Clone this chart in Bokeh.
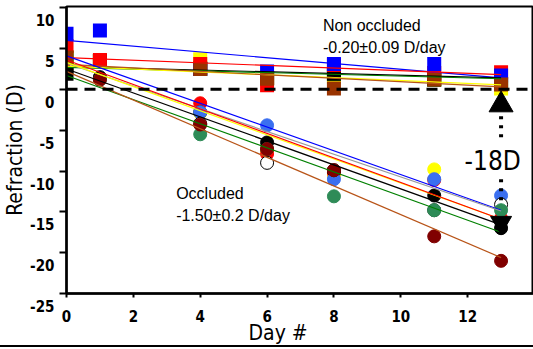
from bokeh.plotting import figure
from bokeh.models import FixedTicker, Span, Label, Range1d, Title
from bokeh.embed import file_html
from bokeh.resources import INLINE

nan = float("nan")

# ---------------- data ----------------
days = [0, 1, 4, 6, 8, 11, 13]
fit_days = [0, 13]

# Non-occluded eyes (squares), drawn in this order
sq_yellow = [3.9, 3.5, 3.7, 1.4, 1.5, 1.2, 0.1]
sq_green = [3.9, 3.5, 2.6, 1.4, 1.9, 1.2, 0.7]
sq_black = [1.9, 3.5, 2.5, 1.4, 1.9, 1.2, 0.7]
sq_red = [5.3, 3.6, 3.1, 0.5, 3.0, 2.0, 2.1]
sq_blue = [6.8, 7.2, 2.5, 2.2, 3.1, 3.1, 1.7]
sq_brown = [3.9, nan, 2.5, 1.3, 0.1, 1.2, 0.6]

# Occluded eyes (circles), drawn in this order
ci_yellow = [3.3, 3.5, -2.9, -7.5, -10.6, -9.8, -16.0]
ci_red = [3.7, 3.5, -1.7, -7.9, -10.2, -11.1, -15.8]
ci_black = [2.5, 1.5, -2.8, -6.5, -10.0, -13.0, -17.0]
ci_blue = [4.1, 3.6, -2.8, -4.4, -11.0, -11.0, -13.0]
ci_white = [3.0, 3.6, -4.2, -9.0, -9.9, -14.8, -14.1]
ci_green = [2.0, 1.2, -5.5, -7.3, -13.1, -14.8, -14.8]
ci_maroon = [2.2, 1.2, -4.3, -7.3, -9.9, -18.0, -21.0]

# Linear fits: value at day 0 and day 13
fit_non_blue = [6.0, 1.4]
fit_non_red = [3.9, 1.8]
fit_non_black = [2.8, 1.4]
fit_non_green = [2.7, 1.3]
fit_non_yellow = [2.85, 0.55]
fit_non_brown = [3.05, 0.3]

fit_occ_blue = [4.1, -14.8]
fit_occ_gray = [3.2, -14.9]
fit_occ_yellow = [3.3, -15.9]
fit_occ_red = [3.6, -15.9]
fit_occ_black = [2.5, -16.6]
fit_occ_green = [1.7, -17.5]
fit_occ_brown = [2.2, -20.6]

# -18D annotation
arrow_day = [13]
arrow_top = [-1.9]      # up triangle
arrow_bottom = [-16.3]  # down triangle
dots_upper = [-3.3, -6.0]
dots_lower = [-11.0, -14.0]

x_ticks = [0, 2, 4, 6, 8, 10, 12]
y_ticks = [-25, -20, -15, -10, -5, 0, 5, 10]

# ---------------- figure ----------------
p = figure(width=533, height=367, output_backend="svg", toolbar_location=None,
           x_range=Range1d(0, 13.97), y_range=Range1d(-25, 10.15),
           min_border_left=65, min_border_right=0, min_border_top=26,
           min_border_bottom=54,
           styles={"border-bottom": "2px solid black", "margin-top": "-20px"})
p.grid.visible = False
p.background_fill_color = "white"
p.border_fill_color = "white"
p.outline_line_color = "black"
p.outline_line_width = 2

tick_font = "DejaVu Sans Condensed"
for ax in (p.xaxis[0], p.yaxis[0]):
    ax.axis_line_width = 2.5
    ax.major_tick_line_width = 2
    ax.major_tick_in = 0
    ax.minor_tick_line_color = None
    ax.major_label_text_font = tick_font
    ax.major_label_text_font_style = "bold"
    ax.major_label_text_font_size = "15px"
    ax.major_label_text_color = "black"
    ax.axis_label_text_color = "black"
    ax.axis_label_text_font = tick_font
    ax.axis_label_text_font_style = "normal"
    ax.axis_label_text_font_size = "21px"

p.xaxis.ticker = FixedTicker(ticks=x_ticks)
p.xaxis.major_tick_out = 4
p.xaxis.major_label_standoff = 12

# x axis title placed left of centre, as in the original
p.add_layout(Title(text="Day #", align="left", offset=182, standoff=-11,
                   text_font=tick_font, text_font_size="21px",
                   text_font_style="normal", text_color="black"), "below")

p.yaxis.ticker = FixedTicker(ticks=y_ticks)
p.yaxis.major_tick_out = 7
p.yaxis.major_label_standoff = 5
p.yaxis.major_label_overrides = {t: "\n" + str(t) for t in y_ticks}
p.yaxis.major_label_text_line_height = 1.5
p.yaxis.axis_label = "Refraction (D)"
p.yaxis.axis_label_standoff = 0

# zero line
p.add_layout(Span(location=0, dimension="width", line_color="black",
                  line_width=3, line_dash="11 7"))

# circles (occluded)
circle_sets = [
    (ci_yellow, "#ffff00", "#ffff00"),
    (ci_red, "#ff0000", "#ff0000"),
    (ci_black, "black", "black"),
    (ci_blue, "#3a6ff0", "#3a6ff0"),
    (ci_white, "white", "black"),
    (ci_green, "#2e8b57", "#2e8b57"),
    (ci_maroon, "#800000", "#800000"),
]
for vals, fc, lc in circle_sets:
    p.scatter(days, vals, marker="circle", size=13, fill_color=fc,
              line_color=lc, line_width=1)

# squares (non occluded)
square_sets = [
    (sq_yellow, "#ffff00"),
    (sq_green, "#008000"),
    (sq_black, "black"),
    (sq_red, "#ff0000"),
    (sq_blue, "#0000ff"),
    (sq_brown, "#993300"),
]
for vals, c in square_sets:
    p.scatter(days, vals, marker="square", size=14, fill_color=c,
              line_color=None)

# fit lines
line_sets = [
    (fit_non_blue, "#0000ff"), (fit_non_red, "#ff0000"),
    (fit_non_black, "black"), (fit_non_green, "#008000"),
    (fit_non_yellow, "#ffff00"), (fit_non_brown, "#b85418"),
    (fit_occ_blue, "#0000ff"), (fit_occ_gray, "#999999"),
    (fit_occ_yellow, "#ffff00"), (fit_occ_red, "#ff0000"),
    (fit_occ_black, "black"), (fit_occ_green, "#008000"),
    (fit_occ_brown, "#b85418"),
]
for vals, c in line_sets:
    p.line(fit_days, vals, line_color=c, line_width=1.2)

# -18D annotation
p.line(arrow_day * 2, dots_upper, line_color="black", line_width=4,
       line_dash="3 6")
p.line(arrow_day * 2, dots_lower, line_color="black", line_width=4,
       line_dash="3 6")
p.scatter(arrow_day, arrow_top, marker="triangle", size=24,
          fill_color="black", line_color="black")
p.scatter(arrow_day, arrow_bottom, marker="inverted_triangle", size=21,
          fill_color="black", line_color="black")

txt_font = "Liberation Sans"
label_specs = [
    (7.67, 7.8, "Non occluded", txt_font, "16px", "left"),
    (7.67, 5.1, "-0.20±0.09 D/day", txt_font, "16px", "left"),
    (3.28, -12.8, "Occluded", txt_font, "16px", "left"),
    (3.28, -15.5, "-1.50±0.2 D/day", txt_font, "16px", "left"),
    (12.75, -8.8, "-18D", tick_font, "26px", "center"),
]
for lx, ly, t, f, fs, al in label_specs:
    p.add_layout(Label(x=lx, y=ly, text=t, text_font=f, text_font_size=fs,
                       text_align=al, text_baseline="middle",
                       text_color="black"))

open("out.html", "w").write(file_html(p, INLINE))
